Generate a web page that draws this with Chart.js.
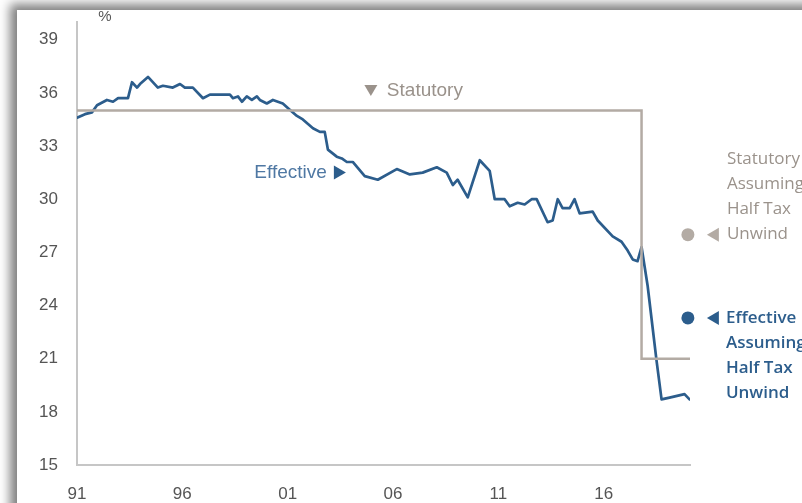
<!DOCTYPE html>
<html>
<head>
<meta charset="utf-8">
<script src="https://cdn.jsdelivr.net/npm/chart.js@4/dist/chart.umd.min.js"></script>
<style>
  html, body { margin: 0; padding: 0; width: 802px; height: 503px; overflow: hidden; background: #ffffff; }
  #card { position: absolute; left: 17px; top: 10px; width: 900px; height: 600px; background: #ffffff;
          box-shadow: -2px -1px 10px 5px rgba(0, 0, 0, 0.5); }
  #wrap { position: absolute; left: 0; top: 0; width: 802px; height: 503px; }
</style>
</head>
<body>
<div id="card"></div>
<div id="wrap"><canvas id="c" width="802" height="503"></canvas></div>
<script>
// Effective corporate tax rate, %
const effYears = [
  1991.00, 1991.38, 1991.71, 1991.95, 1992.42, 1992.71, 1992.95, 1993.42, 1993.61, 1993.85,
  1993.99, 1994.37, 1994.84, 1995.08, 1995.55, 1995.89, 1996.12, 1996.50, 1996.98, 1997.31,
  1998.26, 1998.40, 1998.64, 1998.83, 1999.06, 1999.30, 1999.54, 1999.68, 2000.01, 2000.30,
  2000.77, 2001.10, 2001.44, 2001.72, 2002.20, 2002.53, 2002.76, 2002.91, 2003.33, 2003.57,
  2003.81, 2004.09, 2004.66, 2005.28, 2006.18, 2006.80, 2007.41, 2008.08, 2008.55, 2008.84,
  2009.07, 2009.55, 2010.12, 2010.59, 2010.83, 2011.30, 2011.54, 2011.92, 2012.25, 2012.58,
  2012.82, 2013.34, 2013.58, 2013.82, 2014.05, 2014.39, 2014.62, 2014.86, 2015.48, 2015.72,
  2016.43, 2016.85, 2017.14, 2017.38, 2017.61, 2017.80, 2018.09, 2018.32, 2018.51, 2018.75,
  2019.13, 2019.84, 2020.08
];
const effValues = [
  34.6, 34.8, 34.9, 35.3, 35.6, 35.5, 35.7, 35.7, 36.6, 36.3,
  36.5, 36.9, 36.3, 36.4, 36.3, 36.5, 36.3, 36.3, 35.7, 35.9,
  35.9, 35.7, 35.8, 35.5, 35.8, 35.6, 35.8, 35.6, 35.4, 35.6,
  35.4, 35.05, 34.7, 34.5, 34.0, 33.8, 33.8, 32.8, 32.4, 32.3,
  32.1, 32.1, 31.3, 31.1, 31.7, 31.4, 31.5, 31.8, 31.5, 30.8,
  31.1, 30.1, 32.2, 31.6, 30.0, 30.0, 29.6, 29.8, 29.7, 30.0,
  30.0, 28.7, 28.8, 30.0, 29.5, 29.5, 30.0, 29.2, 29.3, 28.8,
  27.9, 27.6, 27.1, 26.6, 26.5, 27.3, 25.1, 22.8, 20.9, 18.7,
  18.8, 19.0, 18.7
];

// Statutory rate, %
const statYears  = [1991, 2017.8, 2017.8, 2020.1];
const statValues = [35, 35, 21, 21];

// Scenario points: half of the tax cut unwound
const unwindYear = 2020;
const statUnwind = 28.0;
const effUnwind  = 23.3;

// Axis ticks
const yTicks = [15, 18, 21, 24, 27, 30, 33, 36, 39];
const xTicks = [1991, 1996, 2001, 2006, 2011, 2016];

const BLUE = '#2c5d8c';
const GREY_LINE = '#b3aba4';
const GREY_TEXT = '#9a928b';
const TICK_TEXT = '#555555';
const AXIS = '#c6c6c6';

const pairs = (xs, ys) => xs.map((x, i) => ({ x: x, y: ys[i] }));

function triangle(ctx, cx, cy, dir, w, h, color) {
  ctx.fillStyle = color;
  ctx.beginPath();
  if (dir === 'down') {
    ctx.moveTo(cx - w / 2, cy - h / 2); ctx.lineTo(cx + w / 2, cy - h / 2); ctx.lineTo(cx, cy + h / 2);
  } else if (dir === 'right') {
    ctx.moveTo(cx - w / 2, cy - h / 2); ctx.lineTo(cx + w / 2, cy); ctx.lineTo(cx - w / 2, cy + h / 2);
  } else {
    ctx.moveTo(cx + w / 2, cy - h / 2); ctx.lineTo(cx - w / 2, cy); ctx.lineTo(cx + w / 2, cy + h / 2);
  }
  ctx.closePath();
  ctx.fill();
}

const labels = {
  id: 'labels',
  afterDatasetsDraw(chart) {
    const { ctx, scales: { x, y } } = chart;
    ctx.save();
    ctx.textBaseline = 'middle';

    // unit label
    ctx.font = '15px "Liberation Sans", Arial, sans-serif';
    ctx.fillStyle = TICK_TEXT;
    ctx.textAlign = 'center';
    ctx.fillText('%', x.left + 28, 17);

    // Statutory series label
    const sx = x.getPixelForValue(2004.95), sy = y.getPixelForValue(36.13);
    triangle(ctx, sx, sy, 'down', 13, 11, GREY_TEXT);
    ctx.font = '19px "Liberation Sans", Arial, sans-serif';
    ctx.fillStyle = GREY_TEXT;
    ctx.textAlign = 'left';
    ctx.fillText('Statutory', sx + 16, sy);

    // Effective series label
    const ex = x.getPixelForValue(2003.48), ey = y.getPixelForValue(31.5);
    triangle(ctx, ex, ey, 'right', 12, 14, BLUE);
    ctx.fillStyle = '#4f78a3';
    ctx.textAlign = 'right';
    ctx.fillText('Effective', ex - 13, ey);

    // Scenario notes beside the end points
    const px = x.getPixelForValue(unwindYear);
    const lines = ['Assuming', 'Half Tax', 'Unwind'];
    ctx.textAlign = 'left';

    const gy = y.getPixelForValue(statUnwind);
    triangle(ctx, px + 25, gy, 'left', 12, 14, GREY_LINE);
    ctx.font = '17px "Open Sans", sans-serif';
    ctx.fillStyle = GREY_TEXT;
    ['Statutory'].concat(lines).forEach((t, i) => ctx.fillText(t, px + 39, gy - 75 + i * 25));

    const by = y.getPixelForValue(effUnwind);
    triangle(ctx, px + 25, by, 'left', 12, 14, BLUE);
    ctx.font = '600 17px "Open Sans", sans-serif';
    ctx.fillStyle = BLUE;
    ['Effective'].concat(lines).forEach((t, i) => ctx.fillText(t, px + 38, by + i * 25));

    ctx.restore();
  }
};

// fixed axis boxes so the plot area spans x 77..690, y 22..465
function fixBox(size) {
  return s => {
    if (s.isHorizontal()) s.height = size; else s.width = size;
    s.paddingTop = 0; s.paddingBottom = 0; s.paddingLeft = 0; s.paddingRight = 0;
  };
}

new Chart(document.getElementById('c'), {
  type: 'line',
  data: {
    datasets: [
      { label: 'Statutory', data: pairs(statYears, statValues), borderColor: GREY_LINE, borderWidth: 2.5,
        pointRadius: 0, tension: 0 },
      { label: 'Effective', data: pairs(effYears, effValues), borderColor: BLUE, borderWidth: 2.7,
        pointRadius: 0, tension: 0, borderJoinStyle: 'round', borderCapStyle: 'round' },
      { label: 'Statutory assuming half tax unwind', data: [{ x: unwindYear, y: statUnwind }], showLine: false,
        clip: false, pointRadius: 6.5, pointBackgroundColor: GREY_LINE, pointBorderWidth: 0 },
      { label: 'Effective assuming half tax unwind', data: [{ x: unwindYear, y: effUnwind }], showLine: false,
        clip: false, pointRadius: 6.5, pointBackgroundColor: BLUE, pointBorderWidth: 0 }
    ]
  },
  options: {
    responsive: false,
    animation: false,
    events: [],
    layout: { padding: { top: 22, right: 112, left: 0, bottom: 0 } },
    plugins: { legend: { display: false }, tooltip: { enabled: false } },
    scales: {
      x: {
        type: 'linear', min: 1991, max: 2020.1,
        grid: { display: false, drawTicks: false },
        border: { display: true, color: AXIS, width: 2 },
        afterBuildTicks: s => { s.ticks = xTicks.map(v => ({ value: v })); },
        afterFit: fixBox(38),
        ticks: {
          padding: 19, color: TICK_TEXT, maxRotation: 0, autoSkip: false,
          font: { family: '"Liberation Sans", Arial, sans-serif', size: 17 },
          callback: v => String(v % 100).padStart(2, '0')
        }
      },
      y: {
        min: 15, max: 40,
        grid: { display: false, drawTicks: false },
        border: { display: true, color: AXIS, width: 2 },
        afterBuildTicks: s => { s.ticks = yTicks.map(v => ({ value: v })); },
        afterFit: fixBox(77),
        ticks: {
          padding: 19, color: TICK_TEXT,
          font: { family: '"Liberation Sans", Arial, sans-serif', size: 17 }
        }
      }
    }
  },
  plugins: [labels]
});
</script>
</body>
</html>
